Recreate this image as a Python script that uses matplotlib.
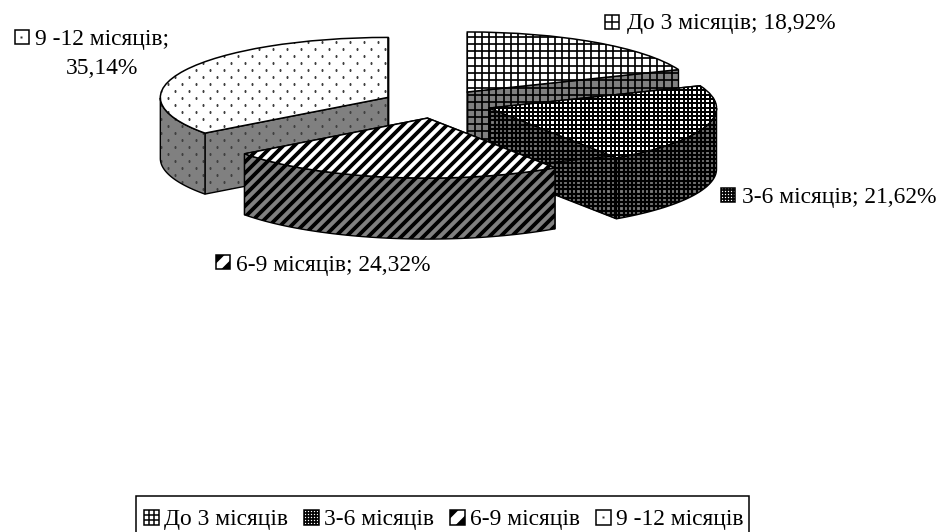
import numpy as np
import matplotlib
matplotlib.use('Agg')
import matplotlib.pyplot as plt
from matplotlib.patches import Patch, Polygon, Rectangle, Wedge
from matplotlib.collections import LineCollection
from matplotlib.lines import Line2D
from matplotlib.transforms import Affine2D, Bbox, IdentityTransform

categories = ['До 3 місяців', '3-6 місяців', '6-9 місяців', '9 -12 місяців']
values = [18.92, 21.62, 24.32, 35.14]
explode = [0.24, 0.24, 0.24, 0.24]
label_text = ['До 3 місяців; 18,92%', '3-6 місяців; 21,62%', '6-9 місяців; 24,32%', '9 -12 місяців;', '35,14%']

W, H = 946, 532
plt.rcParams['font.family'] = ['Liberation Serif', 'DejaVu Serif']
FS = 16.9
fig = plt.figure(figsize=(W / 100, H / 100), dpi=100, facecolor='white')
ax = fig.add_axes([0, 0, 1, 1])
# pie centre (436.7, 103.9), radii 227.6 x 60 px; one data unit is one radius
RX, RY, CX, CY = 227.6, 60.0, 436.7, 103.9
DEPTH = 61 / RY
px = Affine2D().scale(1, -1).translate(0, H)   # reference pixels -> display

wedges, _ = ax.pie(values, explode=explode, startangle=90, counterclock=False,
                   radius=1, frame=True, normalize=True,
                   wedgeprops=dict(facecolor='white', edgecolor='none'))
ax.set_xlim(-CX / RX, (W - CX) / RX)
ax.set_ylim((CY - H) / RY, CY / RY)
ax.set_aspect('auto')
ax.axis('off')


def texture(patch, kind, z, wall):
    if kind in ('grid', 'fine'):
        step, lw = (7.3, 1.7) if kind == 'grid' else (4.3, 2.2 if wall else 2.0)
        segs = [[(x, 0), (x, H)] for x in np.arange(0, W, step)]
        segs += [[(0, y), (W, y)] for y in np.arange(0, H, step)]
        art = LineCollection(segs, colors='black', linewidths=lw * 0.72, transform=px, zorder=z)
        art.set_snap(True)
        ax.add_collection(art, autolim=False)
    elif kind == 'stripe':
        segs = [[(x, H), (x + H, 0)] for x in np.arange(-H, W, 11.0)]
        art = LineCollection(segs, colors='black', linewidths=3.8 * 0.72, transform=px, zorder=z)
        ax.add_collection(art, autolim=False)
    else:
        xs, ys = [], []
        for i, y in enumerate(np.arange(0, 260, 7.0)):
            row = np.arange(7 if i % 2 else 0, W, 14.0)
            xs.extend(row)
            ys.extend([y] * len(row))
        art, = ax.plot(xs, ys, ls='none', marker='s', ms=1.5, mfc='#404040', mec='none',
                       transform=px, zorder=z)
    art.set_clip_path(patch)


kinds = ['grid', 'fine', 'stripe', 'dots']
z = 2
for idx in [0, 3, 1, 2]:
    w = wedges[idx]
    cx, cy = w.center
    a0, a1 = np.radians(w.theta1), np.radians(w.theta2)
    faces = []
    for a in (a0, a1):
        ex, ey = cx + np.cos(a), cy + np.sin(a)
        faces.append([(cx, cy), (ex, ey), (ex, ey - DEPTH), (cx, cy - DEPTH)])
    # curved wall: only the lower half of the ellipse faces the viewer
    angs = np.linspace(a0, a1, 200)
    angs = angs[np.sin(angs) <= 0]
    if len(angs):
        top = np.c_[cx + np.cos(angs), cy + np.sin(angs)]
        faces.append(np.r_[top, top[::-1] - [0, DEPTH]])
    for f in faces:
        poly = Polygon(f, closed=True, facecolor='#808080', edgecolor='none', zorder=z)
        ax.add_patch(poly)
        texture(poly, kinds[idx], z + 0.1, True)
        ax.add_patch(Polygon(f, closed=True, fill=False, edgecolor='black', linewidth=1.0, zorder=z + 0.2))
        z += 1
    w.set_zorder(z)
    texture(w, kinds[idx], z + 0.1, False)
    ax.add_patch(Wedge(w.center, w.r, w.theta1, w.theta2, fill=False, edgecolor='black',
                       linewidth=1.1, zorder=z + 0.2))
    z += 1


def icon_marks(x0, y0, x1, y1, i, cross_only):
    """Pattern swatch inside the display box (x0, y0, x1, y1)."""
    box = Bbox([[x0, y0], [x1, y1]])
    w_, h_ = x1 - x0, y1 - y0
    arts = []
    if i == 0:
        fr = [0.5] if cross_only else [0.33, 0.67]
        for f in fr:
            arts.append(Line2D([x0 + f * w_] * 2, [y0, y1], color='black', lw=1.1))
            arts.append(Line2D([x0, x1], [y0 + f * h_] * 2, color='black', lw=1.1))
    elif i == 1:
        for d in np.arange(0, w_ + 1, 3.0):
            arts.append(Line2D([x0 + d] * 2, [y0, y1], color='black', lw=1.25))
            arts.append(Line2D([x0, x1], [y0 + d] * 2, color='black', lw=1.25))
    elif i == 2:
        for off in (-w_ * 0.95, w_ * 0.95):
            arts.append(Line2D([x0 - 20 + off, x1 + 20 + off], [y0 - 20, y1 + 20],
                               color='black', lw=8))
    else:
        arts.append(Line2D([x0 + 0.45 * w_], [y0 + 0.5 * h_], marker='s', ms=1.5, mfc='#303030',
                           mec='none', ls='none'))
    for a in arts:
        a.set_zorder(12)
        fig.add_artist(a)
        a.set_transform(IdentityTransform())
        a.set_clip_box(box)
        a.set_clip_on(True)


icons = [(605, 15), (721, 188), (216, 255), (15, 30)]
text_pos = [(627, 24), (742, 198), (236, 265), (35, 39)]
for i in range(4):
    ix, iy = icons[i]
    x0, y0 = px.transform((ix, iy + 14))
    x1, y1 = px.transform((ix + 14, iy))
    r = Rectangle((x0, y0), x1 - x0, y1 - y0, facecolor='white', edgecolor='black', linewidth=1.1, zorder=10)
    fig.add_artist(r)
    r.set_transform(IdentityTransform())
    icon_marks(x0, y0, x1, y1, i, True)
    tx, ty = px.transform(text_pos[i])
    fig.text(tx / W, ty / H, label_text[i], fontsize=FS, va='center', ha='left', zorder=10)
fig.text(102 / W, 1 - 68 / H, label_text[4], fontsize=FS, va='center', ha='center', zorder=10)

# legend frame runs off the bottom of the picture
fx0, fy1 = px.transform((135.5, 496))
fx1, fy0 = px.transform((749, 540))
frame = Rectangle((fx0, fy0), fx1 - fx0, fy1 - fy0, facecolor='white', edgecolor='black',
                  linewidth=1.1, zorder=4)
fig.add_artist(frame)
frame.set_transform(IdentityTransform())

handles = [Patch(facecolor='white', edgecolor='black', linewidth=1.1) for _ in categories]
leg = fig.legend(handles, categories, ncol=4, loc='upper left',
                 bbox_to_anchor=(135 / W, 1 - 500 / H), borderaxespad=0, fontsize=FS,
                 frameon=False,
                 handlelength=0.62, handleheight=0.6, handletextpad=0.22, columnspacing=0.69,
                 borderpad=0.4)
fig.canvas.draw()
for i, p in enumerate(leg.get_patches()):
    e = p.get_window_extent()
    icon_marks(e.x0, e.y0, e.x1, e.y1, i, False)
fig.savefig('out.png', dpi=100)
